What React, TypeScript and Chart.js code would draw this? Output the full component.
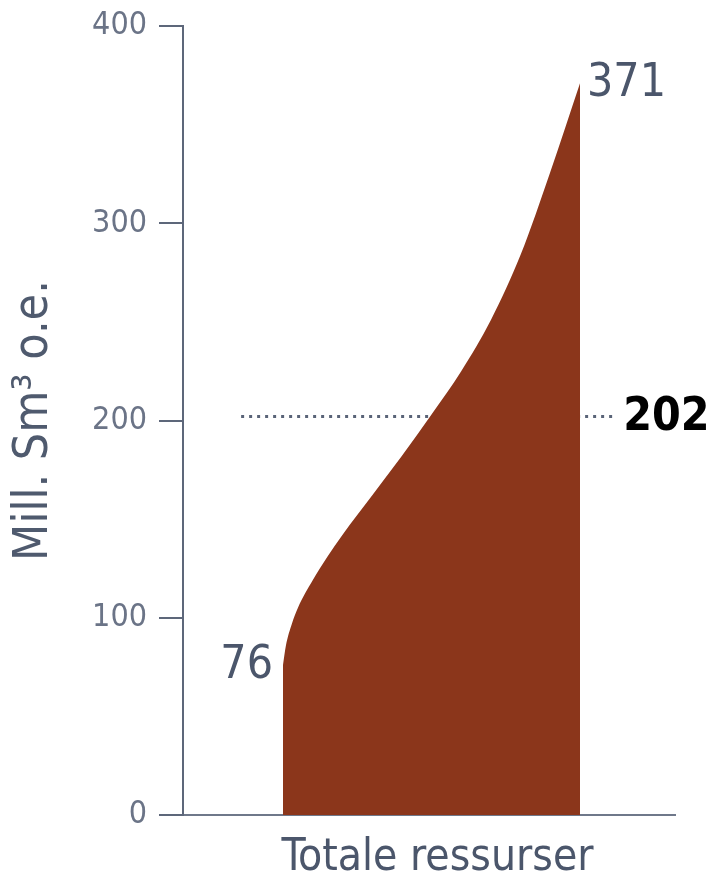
import React, { useEffect, useRef } from "react";
import { Chart, registerables } from "chart.js";

Chart.register(...registerables);

// Share of the distribution (0 = low case, 1 = high case) and resource volume
const curveShare = [0, 0.01, 0.03, 0.05, 0.1, 0.15, 0.2, 0.3, 0.4, 0.5, 0.6, 0.7, 0.8, 0.9, 1];
const curveValues = [76, 86, 97, 105, 119, 131, 142, 162, 182, 203, 225, 251, 284, 326, 371];
const lowValue = 76;
const highValue = 371;
const expectedValue = 202;
const expectedLineShare = [-0.141, 1.125];
const yTicks = [0, 100, 200, 300, 400];
const categoryLabel = "Totale ressurser";
const yTitle = "Mill. Sm³ o.e.";

const FONT = "'DejaVu Sans Condensed', 'DejaVu Sans', sans-serif";

const labelPlugin = {
  id: "valueLabels",
  afterDatasetsDraw(chart: any) {
    const { ctx, scales } = chart;
    const xs = scales.x;
    const ys = scales.y;
    ctx.save();
    ctx.textBaseline = "middle";
    ctx.font = `46px ${FONT}`;
    ctx.fillStyle = "#4b566b";
    ctx.textAlign = "right";
    ctx.fillText(String(lowValue), xs.getPixelForValue(curveShare[0]) - 10, ys.getPixelForValue(lowValue) + 1);
    ctx.textAlign = "left";
    ctx.fillText(String(highValue), xs.getPixelForValue(curveShare[curveShare.length - 1]) + 7, ys.getPixelForValue(highValue) + 1);
    ctx.font = `bold 46px ${FONT}`;
    ctx.fillStyle = "#000000";
    ctx.fillText(String(expectedValue), xs.getPixelForValue(expectedLineShare[1]) + 6, ys.getPixelForValue(expectedValue) + 1);
    ctx.restore();
  },
};

export default function App() {
  const ref = useRef<HTMLCanvasElement | null>(null);
  useEffect(() => {
    if (!ref.current) return;
    const chart = new Chart(ref.current, {
      type: "line",
      data: {
        datasets: [
          {
            label: "Ressurser",
            data: curveShare.map((x, i) => ({ x, y: curveValues[i] })),
            borderColor: "#8b361b",
            backgroundColor: "#8b361b",
            borderWidth: 0,
            pointRadius: 0,
            fill: "origin",
            cubicInterpolationMode: "monotone",
            order: 1,
          },
          {
            label: "Forventet",
            data: expectedLineShare.map((x) => ({ x, y: expectedValue })),
            borderColor: "#5a6478",
            borderWidth: 3,
            borderDash: [3, 5],
            pointRadius: 0,
            fill: false,
            order: 2,
          },
        ],
      },
      options: {
        responsive: false,
        animation: false,
        layout: { padding: { top: 26, right: 38, bottom: 0, left: 0 } },
        plugins: { legend: { display: false }, tooltip: { enabled: false } },
        scales: {
          x: {
            type: "linear",
            min: -100 / 297,
            max: 1 + 95 / 297,
            grid: { display: false },
            border: { display: true, color: "#6f788a", width: 2 },
            afterBuildTicks: (scale: any) => {
              scale.ticks = [{ value: 0.52 }];
            },
            afterFit: (scale: any) => {
              scale.height = 63;
              scale.paddingLeft = 0;
              scale.paddingRight = 0;
            },
            ticks: {
              autoSkip: false,
              maxRotation: 0,
              padding: 9,
              color: "#4b566b",
              font: { family: FONT, size: 44 },
              callback: () => categoryLabel,
            },
          },
          y: {
            type: "linear",
            min: 0,
            max: 400,
            afterBuildTicks: (scale: any) => {
              scale.ticks = yTicks.map((v) => ({ value: v }));
            },
            afterFit: (scale: any) => {
              scale.width = 183;
              scale.paddingTop = 0;
              scale.paddingBottom = 0;
            },
            grid: {
              display: true,
              drawOnChartArea: false,
              drawTicks: true,
              tickLength: 24,
              color: "#5d677a",
              lineWidth: 2,
            },
            border: { display: true, color: "#5d677a", width: 2 },
            ticks: {
              padding: 12,
              color: "#6b7487",
              font: { family: FONT, size: 32 },
            },
            title: {
              display: true,
              text: yTitle,
              color: "#4f5a6e",
              font: { family: FONT, size: 48, lineHeight: 1 },
              padding: { top: 11, bottom: 0 },
            },
          },
        },
      },
      plugins: [labelPlugin],
    });
    return () => chart.destroy();
  }, []);
  return (
    <div style={{ position: "absolute", left: 0, top: 0, width: 713, height: 878, background: "#fff" }}>
      <canvas ref={ref} width={713} height={878} style={{ width: 713, height: 878 }} />
    </div>
  );
}
